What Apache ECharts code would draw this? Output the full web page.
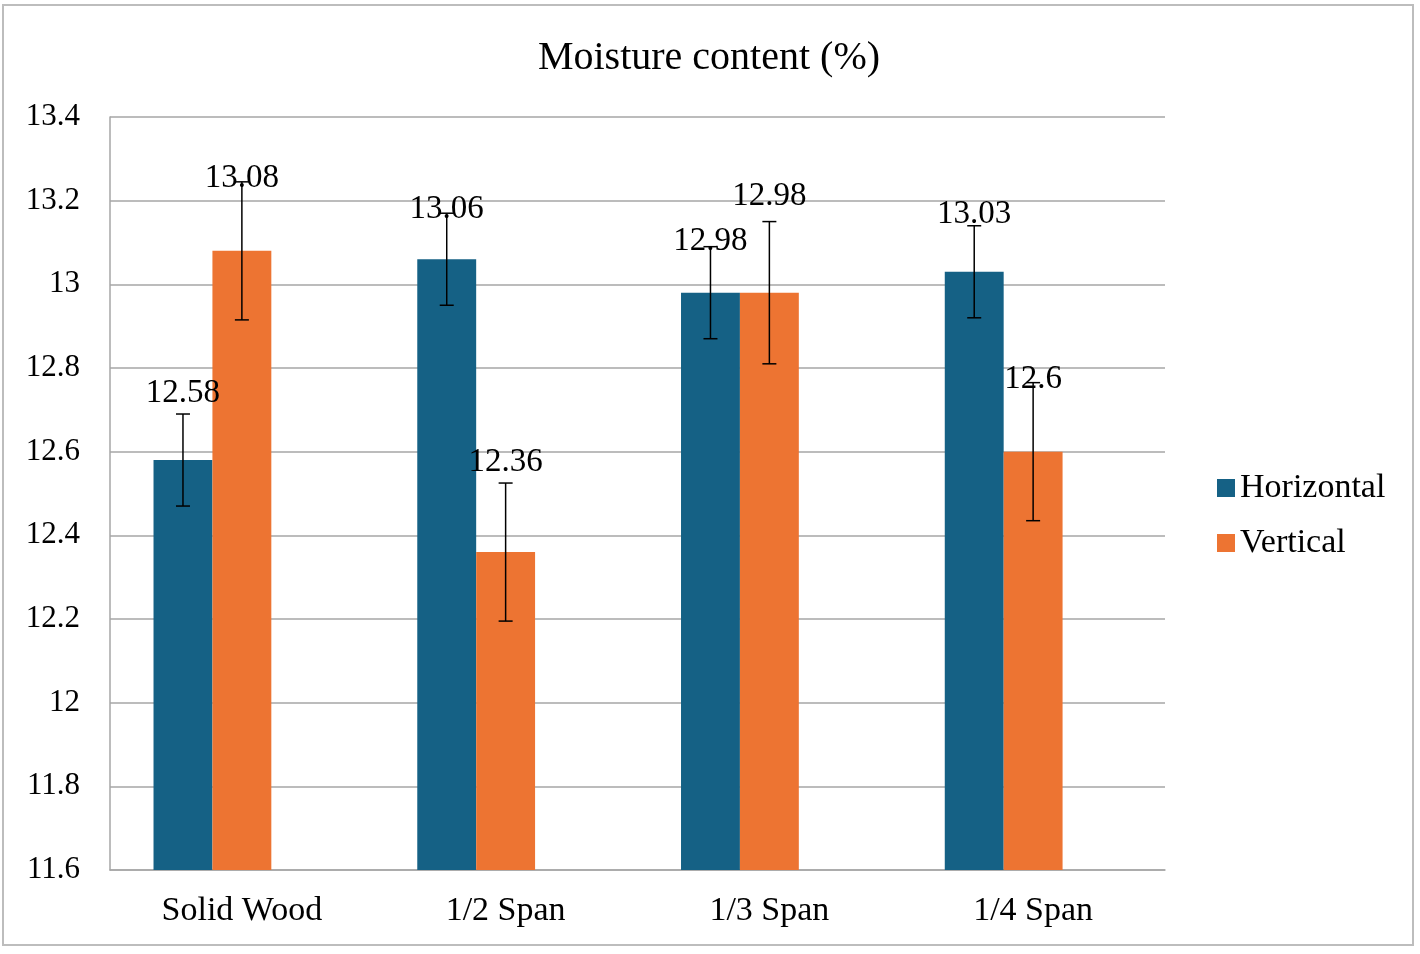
<!DOCTYPE html>
<html>
<head>
<meta charset="utf-8">
<script src="https://cdn.jsdelivr.net/npm/echarts@6/dist/echarts.min.js"></script>
<style>
html,body{margin:0;padding:0;background:#fff;}
#frame{position:absolute;left:2px;top:4px;width:1412px;height:942px;border:2px solid #bdbdbd;box-sizing:border-box;}
#chart{position:absolute;left:0;top:0;width:1420px;height:954px;}
</style>
</head>
<body>
<div id="frame"></div>
<div id="chart"></div>
<script>
const categories = ['Solid Wood', '1/2 Span', '1/3 Span', '1/4 Span'];
const horizontal = [12.58, 13.06, 12.98, 13.03];
const vertical = [13.08, 12.36, 12.98, 12.6];
const horizontalErr = [0.11, 0.11, 0.11, 0.11];
const verticalErr = [0.165, 0.165, 0.17, 0.165];
const yTicks = { min: 11.6, max: 13.4, interval: 0.2 };
// label nudge above error-bar top (px), style only
const hLabelLift = [21, 4, 5, 11];
const vLabelLift = [4, 21, 25, 3];

const FONT = '"Liberation Serif", "Times New Roman", serif';
const BAR_GAP_CAT = 0.33;
const SLOTS = 3; // the source chart reserves a third (empty) bar slot per category

function errSeries(values, errs, lifts, slot) {
  return {
    type: 'custom',
    z: 10,
    silent: true,
    data: values.map((v, i) => [i, v, errs[i], lifts[i]]),
    renderItem: function (params, api) {
      const idx = api.value(0);
      const val = api.value(1);
      const err = api.value(2);
      const lift = api.value(3);
      const catW = api.size([1, 0])[0];
      const barW = catW * (1 - BAR_GAP_CAT) / SLOTS;
      const base = api.coord([idx, val]);
      const x = base[0] + (slot - (SLOTS - 1) / 2) * barW;
      const top = api.coord([idx, val + err])[1];
      const bot = api.coord([idx, val - err])[1];
      const cap = 7;
      const ls = { stroke: '#000', lineWidth: 1.5 };
      return {
        type: 'group',
        children: [
          { type: 'line', shape: { x1: x, y1: top, x2: x, y2: bot }, style: ls },
          { type: 'line', shape: { x1: x - cap, y1: top, x2: x + cap, y2: top }, style: ls },
          { type: 'line', shape: { x1: x - cap, y1: bot, x2: x + cap, y2: bot }, style: ls },
          { type: 'text', z2: 20, style: { text: String(val), x: x, y: top - lift, textAlign: 'center', textVerticalAlign: 'middle', fill: '#000', font: '33px ' + FONT } }
        ]
      };
    }
  };
}

const barCommon = { type: 'bar', barGap: '0%', barCategoryGap: (BAR_GAP_CAT * 100) + '%' };

const chart = echarts.init(document.getElementById('chart'));
chart.setOption({
  animation: false,
  backgroundColor: 'transparent',
  textStyle: { fontFamily: FONT },
  title: {
    text: 'Moisture content (%)',
    left: 704, top: 33, textAlign: 'center',
    textStyle: { fontFamily: FONT, fontSize: 40, fontWeight: 'normal', color: '#000' }
  },
  legend: {
    orient: 'vertical',
    left: 1212, top: 466,
    itemWidth: 18, itemHeight: 18, itemGap: 21,
    icon: 'rect',
    textStyle: { fontFamily: FONT, fontSize: 34, color: '#000', padding: [0, 0, 0, 0] },
    data: ['Horizontal', 'Vertical']
  },
  grid: { left: 110, right: 255, top: 117, bottom: 84 },
  xAxis: {
    type: 'category',
    data: categories,
    axisLine: { show: true, lineStyle: { color: '#a6a6a6', width: 1.5 } },
    axisTick: { show: false },
    axisLabel: { color: '#000', fontFamily: FONT, fontSize: 34, margin: 24 }
  },
  yAxis: {
    type: 'value',
    min: yTicks.min, max: yTicks.max, interval: yTicks.interval,
    axisLine: { show: true, lineStyle: { color: '#a6a6a6', width: 1.5 } },
    axisTick: { show: false },
    splitLine: { lineStyle: { color: '#a6a6a6', width: 1.5 } },
    axisLabel: {
      color: '#000', fontFamily: FONT, fontSize: 31, margin: 30,
      formatter: v => String(+v.toFixed(1))
    }
  },
  series: [
    Object.assign({ name: 'Horizontal', data: horizontal, itemStyle: { color: '#156185' } }, barCommon),
    Object.assign({ name: 'Vertical', data: vertical, itemStyle: { color: '#ED7432' } }, barCommon),
    Object.assign({ name: 'empty', data: categories.map(() => null), silent: true }, barCommon),
    errSeries(horizontal, horizontalErr, hLabelLift, 0),
    errSeries(vertical, verticalErr, vLabelLift, 1)
  ]
});
</script>
</body>
</html>
